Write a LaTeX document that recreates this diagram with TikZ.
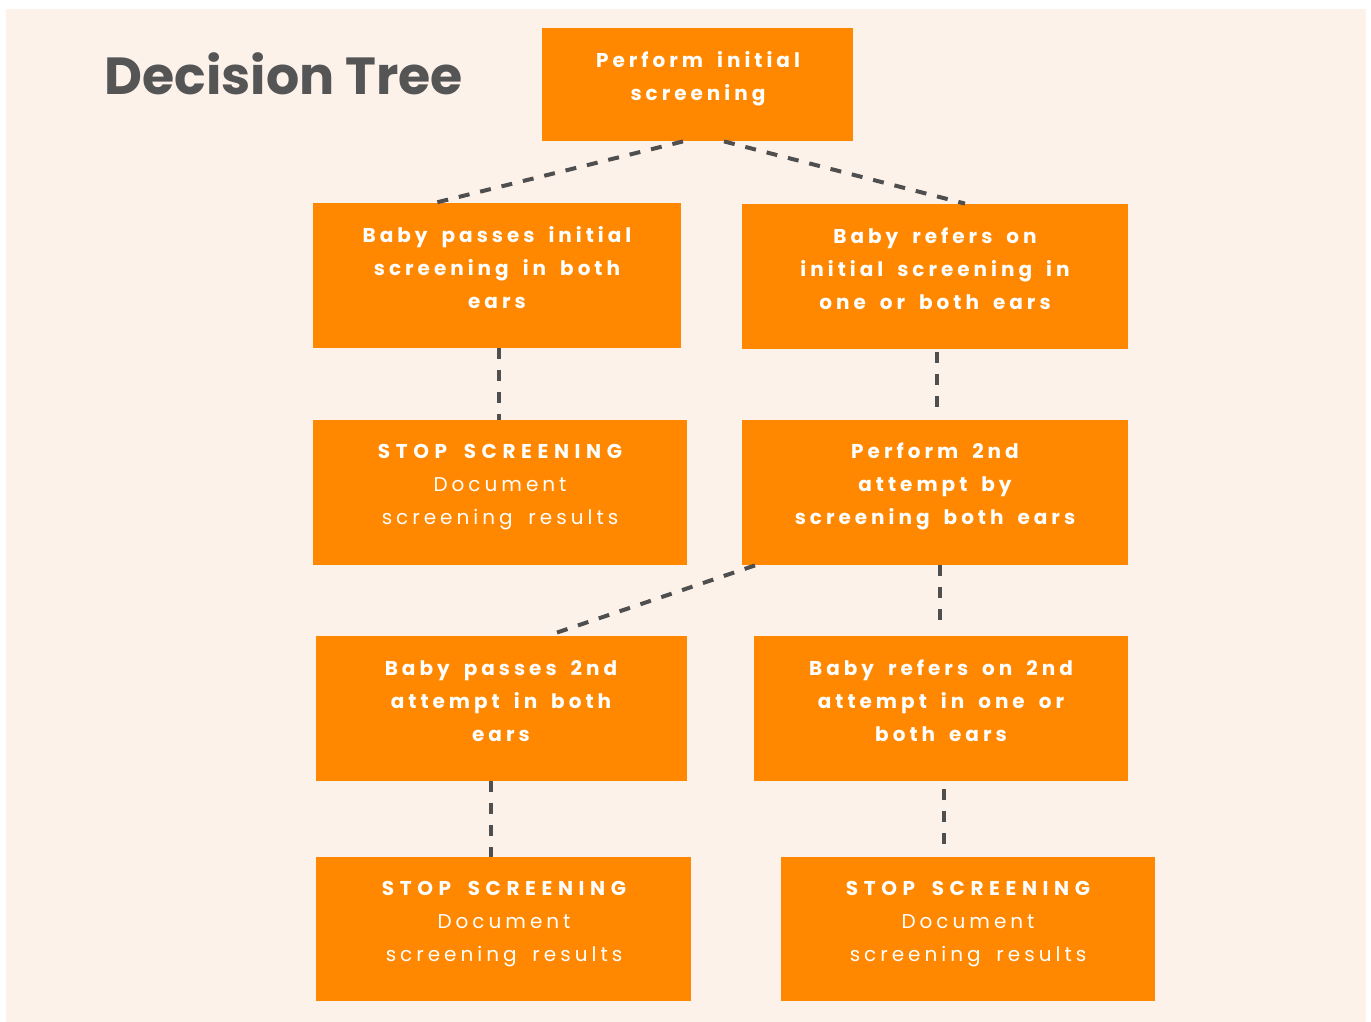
\documentclass[tikz,border=0pt]{standalone}
\usepackage{fontspec}
\setmainfont{Poppins}
\newfontfamily\boxfont[LetterSpace=20,WordSpace=1.7]{Poppins}
\newfontfamily\capsfont[LetterSpace=28,WordSpace=1.7]{Poppins}
\newfontfamily\titlefont{Poppins}
\usetikzlibrary{calc}
\definecolor{peach}{HTML}{FDF2EA}
\definecolor{boxorange}{HTML}{FF8800}
\definecolor{ink}{HTML}{555555}
\definecolor{dashgray}{HTML}{4F4F4F}
\newcommand{\stopline}{{\capsfont\bfseries STOP SCREENING}}

\begin{document}
\begin{tikzpicture}[x=0.5pt,y=-0.5pt,
  box/.style={fill=boxorange, draw=none, inner sep=0pt, minimum height=72.5pt},
  boxtext/.style={text=white, align=center, inner sep=0pt,
    font=\boxfont\fontsize{10}{16.5}\selectfont},
  conn/.style={draw=dashgray, line width=2pt, dash pattern=on 5.5pt off 5.5pt}]

% canvas
\fill[white] (0,0) rectangle (1371,1022);
\fill[peach] (6,9) rectangle (1366,1022);
\useasboundingbox (0,0) rectangle (1371,1022);

% heading
\node[anchor=base west, inner sep=0pt, text=ink,
      font=\titlefont\bfseries\fontsize{26.1}{31}\selectfont] (title) at (104,95) {Decision Tree};

% boxes
\node[box, minimum width=155.5pt, minimum height=56.5pt] (n1) at (697.5,84.5) {};
\node[box, minimum width=184pt] (n2) at (497,275.5) {};
\node[box, minimum width=193pt] (n3) at (935,276.5) {};
\node[box, minimum width=187pt] (n4) at (500,492.5) {};
\node[box, minimum width=193pt] (n5) at (935,492.5) {};
\node[box, minimum width=185.5pt] (n6) at (501.5,708.5) {};
\node[box, minimum width=187pt] (n7) at (941,708.5) {};
\node[box, minimum width=187.5pt, minimum height=72pt] (n8) at (503.5,929) {};
\node[box, minimum width=187pt, minimum height=72pt] (n9) at (968,929) {};

% box texts
\node[boxtext] (t1) at (698,78.5) {\bfseries Perform initial\\\bfseries screening};
\node[boxtext] (t2) at (497,268) {\bfseries Baby passes initial\\\bfseries screening in both\\\bfseries ears};
\node[boxtext] (t3) at (935,269) {\bfseries Baby refers on\\\bfseries initial screening in\\\bfseries one or both ears};
\node[boxtext] (t4) at (500,487.5) {\stopline\\Document\\screening results};
\node[boxtext] (t5) at (935,486.5) {\bfseries Perform 2nd\\\bfseries attempt by\\\bfseries screening both ears};
\node[boxtext] (t6) at (501,701) {\bfseries Baby passes 2nd\\\bfseries attempt in both\\\bfseries ears};
\node[boxtext] (t7) at (941,701) {\bfseries Baby refers on 2nd\\\bfseries attempt in one or\\\bfseries both ears};
\node[boxtext] (t8) at (504,924.5) {\stopline\\Document\\screening results};
\node[boxtext] (t9) at (968,924.5) {\stopline\\Document\\screening results};

% dashed connectors
\draw[conn] ([xshift=-7.25pt]n1.south) -- ([xshift=-30.5pt]n2.north);
\draw[conn] ([xshift=13.25pt]n1.south) -- ([xshift=15pt]n3.north);
\draw[conn] ([xshift=1pt]n2.south) -- ([xshift=1pt]n2.south |- n4.north);
\draw[conn, shorten <=1.5pt, shorten >=1.5pt] ([xshift=1pt]n3.south) -- ([xshift=1pt]n3.south |- n5.north);
\draw[conn] ([xshift=-90pt]n5.south) -- ([xshift=23.25pt]n6.north);
\draw[conn, shorten >=4.5pt] ([xshift=2.5pt]n5.south) -- ([xshift=2.5pt]n5.south |- n7.north);
\draw[conn] ([xshift=-5.25pt]n6.south) -- ([xshift=-5.25pt]n6.south |- n8.north);
\draw[conn, shorten <=4pt, shorten >=3pt] ([xshift=1.5pt]n7.south) -- ([xshift=1.5pt]n7.south |- n9.north);
\end{tikzpicture}
\end{document}
